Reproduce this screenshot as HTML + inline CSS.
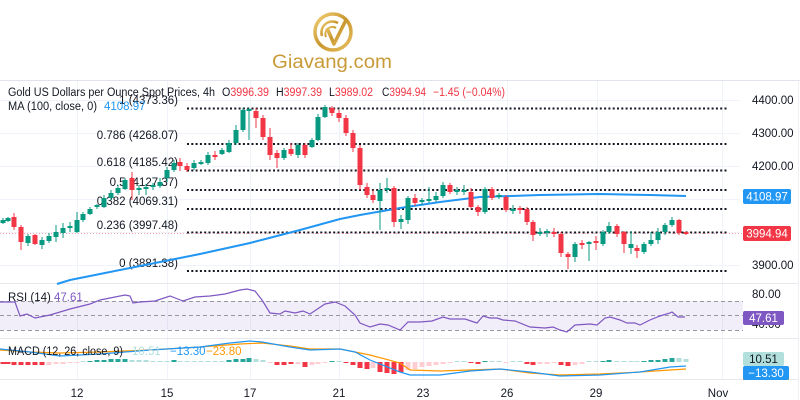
<!DOCTYPE html>
<html><head><meta charset="utf-8"><style>
html,body{margin:0;padding:0;background:#fff;}
svg{display:block;}
text{font-family:"Liberation Sans",Arial,sans-serif;}
</style></head><body>
<svg width="800" height="400" viewBox="0 0 800 400" xmlns="http://www.w3.org/2000/svg">
<defs>
<linearGradient id="gold" x1="0" y1="0" x2="1" y2="1">
<stop offset="0" stop-color="#f3d27a"/><stop offset="0.5" stop-color="#c9962e"/><stop offset="1" stop-color="#e8c060"/>
</linearGradient>
</defs>
<rect width="800" height="400" fill="#fff"/>
<!-- logo -->
<circle cx="333" cy="32" r="18" fill="none" stroke="url(#gold)" stroke-width="3.5"/>
<path d="M322 36 a11 11 0 0 1 16 -13" fill="none" stroke="url(#gold)" stroke-width="2.5"/>
<path d="M326 37 a7 7 0 0 1 10 -9" fill="none" stroke="url(#gold)" stroke-width="2"/>
<path d="M327 28 L334 44 L346 20" fill="none" stroke="url(#gold)" stroke-width="3.5" stroke-linejoin="round"/>
<text x="272" y="68" font-size="19" fill="#c99a38" textLength="120" lengthAdjust="spacingAndGlyphs">Giavang.com</text>

<!-- frame -->
<line x1="0" y1="80.5" x2="800" y2="80.5" stroke="#e0e3eb"/>
<line x1="798.5" y1="80" x2="798.5" y2="400" stroke="#eef0f4"/>
<!-- grid -->
<g stroke="#f0f3fa" stroke-width="1">
<path d="M77.5 81V379M167.5 81V379M250.5 81V379M339.5 81V379M423.5 81V379M507.5 81V379M597.5 81V379M722.5 81V379"/>
<path d="M0 100.5H740M0 133.5H740M0 166.5H740M0 199.5H740M0 232.5H740M0 265.5H740"/>
</g>
<!-- pane separators -->
<line x1="0" y1="283.5" x2="798" y2="283.5" stroke="#e6e8ee"/>
<line x1="0" y1="338.5" x2="798" y2="338.5" stroke="#e6e8ee"/>
<line x1="0" y1="379.5" x2="798" y2="379.5" stroke="#e6e8ee"/>

<!-- fib dotted lines -->
<g stroke="#131722" stroke-width="2" stroke-dasharray="2 2.3">
<path d="M187 108.5H728M187 144H728M187 170.5H728M187 190H728M187 209H728M187 232.5H728M187 271H728"/>
</g>
<!-- current price dotted -->
<line x1="0" y1="233.5" x2="742" y2="233.5" stroke="#f7a6ad" stroke-width="1" stroke-dasharray="1 2"/>

<!-- fib labels -->
<g font-size="11.5" fill="#131722" text-anchor="end">
<text x="178" y="104">1 (4373.36)</text>
<text x="178" y="139">0.786 (4268.07)</text>
<text x="178" y="166">0.618 (4185.42)</text>
<text x="178" y="186">0.5 (4127.37)</text>
<text x="178" y="205">0.382 (4069.31)</text>
<text x="178" y="229">0.236 (3997.48)</text>
<text x="178" y="267">0 (3881.38)</text>
</g>

<!-- MA line -->
<polyline fill="none" stroke="#2196f3" stroke-width="2" points="57,284 70,280 100,274 130,268 160,262 200,254 250,243 300,230 340,219 360,215 400,208 440,202 480,197 540,195 600,194 650,195 686,196"/>

<!-- candles green -->
<path fill="#089981" d="M0.5 220h5v3h-5zM5.5 218h5v3h-5zM25.5 236h5v7h-5zM39.5 240h5v5h-5zM46.5 236h5v5h-5zM53.5 232h5v5h-5zM60.5 228h5v5h-5zM67.5 226h5v2h-5zM74.5 220h5v12h-5zM80.5 214h5v6h-5zM87.5 209h5v5h-5zM94.5 205h5v2h-5zM101.5 198h5v9h-5zM108.5 193h5v5h-5zM115.5 188h5v5h-5zM122.5 180h5v9h-5zM136.5 188h5v2h-5zM143.5 187h5v2h-5zM150.5 185h5v2h-5zM157.5 182h5v4h-5zM164.5 170h5v8h-5zM171.5 163h5v7h-5zM191.5 163h5v5h-5zM198.5 162h5v2h-5zM205.5 155h5v8h-5zM219.5 150h5v4h-5zM226.5 143h5v9h-5zM233.5 130h5v13h-5zM240.5 110h5v20h-5zM246.5 109h5v2h-5zM281.5 150h5v8h-5zM295.5 145h5v10h-5zM309.5 140h5v7h-5zM315.5 117h5v23h-5zM322.5 107h5v10h-5zM377.5 190h5v11h-5zM384.5 188h5v2h-5zM398.5 219h5v3h-5zM405.5 198h5v22h-5zM419.5 200h5v2h-5zM426.5 199h5v2h-5zM433.5 196h5v4h-5zM440.5 185h5v11h-5zM454.5 190h5v2h-5zM461.5 190h5v2h-5zM482.5 189h5v23h-5zM496.5 195h5v2h-5zM510.5 209h5v2h-5zM537.5 232h5v2h-5zM544.5 231h5v2h-5zM572.5 244h5v13h-5zM586.5 242h5v2h-5zM600.5 232h5v12h-5zM606.5 226h5v6h-5zM628.5 244h5v4h-5zM641.5 244h5v8h-5zM648.5 240h5v4h-5zM655.5 232h5v8h-5zM662.5 225h5v7h-5zM669.5 220h5v5h-5z"/>
<path fill="none" stroke="#089981" stroke-width="1" d="M3 218V224M8 217V222M28 234V246M42 237V249M49 233V243M56 225V242M63 223V238M70 222V232M77 212V233M83 212V222M90 207V215M97 204V209M104 195V208M111 190V200M118 185V195M125 178V190M139 185V195M146 184V195M153 183V190M160 178V188M167 167V182M174 160V172M194 160V170M201 160V165M208 152V165M222 148V155M229 140V153M236 125V145M243 108V132M249 108V140M284 148V160M298 143V158M312 138V148M318 114V141M325 105V118M380 183V230M387 178V193M401 215V229M408 196V224M422 198V205M429 187V203M436 192V202M443 182V198M457 187V195M464 185V195M485 187V214M499 193V199M513 205V214M540 228V236M547 229V237M575 242V262M589 241V261M603 230V246M609 222V234M631 231V254M644 242V254M651 232V246M658 228V244M665 223V235M672 217V227"/>
<!-- candles red -->
<path fill="#f23645" d="M11.5 217h5v10h-5zM18.5 227h5v15h-5zM32.5 235h5v9h-5zM129.5 178h5v12h-5zM177.5 162h5v4h-5zM184.5 166h5v4h-5zM212.5 155h5v2h-5zM253.5 111h5v7h-5zM260.5 118h5v19h-5zM267.5 137h5v18h-5zM274.5 153h5v5h-5zM288.5 149h5v5h-5zM302.5 145h5v10h-5zM329.5 108h5v5h-5zM336.5 113h5v5h-5zM343.5 118h5v15h-5zM350.5 133h5v15h-5zM357.5 148h5v37h-5zM364.5 187h5v8h-5zM370.5 195h5v5h-5zM391.5 188h5v34h-5zM412.5 198h5v5h-5zM447.5 185h5v7h-5zM468.5 192h5v15h-5zM475.5 207h5v5h-5zM489.5 189h5v9h-5zM503.5 197h5v13h-5zM517.5 208h5v2h-5zM524.5 209h5v13h-5zM530.5 222h5v13h-5zM551.5 232h5v2h-5zM558.5 234h5v19h-5zM565.5 254h5v3h-5zM579.5 243h5v2h-5zM593.5 241h5v2h-5zM614.5 226h5v8h-5zM621.5 232h5v12h-5zM634.5 248h5v3h-5zM676.5 220h5v13h-5zM683.5 232h5v2h-5z"/>
<path fill="none" stroke="#f23645" stroke-width="1" d="M14 213V230M21 225V250M35 234V245M132 172V200M180 158V171M187 163V172M215 151V160M256 108V128M263 115V140M270 128V160M277 150V168M291 143V156M305 143V158M332 106V116M339 110V122M346 115V136M353 130V152M360 145V190M367 183V198M373 190V203M394 186V227M415 194V206M450 183V194M471 188V209M478 205V216M492 187V200M506 195V212M520 206V214M527 207V225M533 220V241M554 228V237M561 232V257M568 252V269M582 240V249M596 236V250M617 224V237M624 231V253M637 245V258M679 219V235M686 231V235"/>

<!-- header text -->
<g font-size="11.5">
<text x="8" y="96" fill="#131722" textLength="207" lengthAdjust="spacingAndGlyphs">Gold US Dollars per Ounce Spot Prices, 4h</text>
<text x="222" y="96" fill="#131722" textLength="47" lengthAdjust="spacingAndGlyphs">O<tspan fill="#f23645">3996.39</tspan></text>
<text x="276" y="96" fill="#131722" textLength="46" lengthAdjust="spacingAndGlyphs">H<tspan fill="#f23645">3997.39</tspan></text>
<text x="329" y="96" fill="#131722" textLength="44" lengthAdjust="spacingAndGlyphs">L<tspan fill="#f23645">3989.02</tspan></text>
<text x="382" y="96" fill="#131722" textLength="44" lengthAdjust="spacingAndGlyphs">C<tspan fill="#f23645">3994.94</tspan></text>
<text x="433" y="96" fill="#f23645" textLength="72" lengthAdjust="spacingAndGlyphs">−1.45 (−0.04%)</text>
<text x="8" y="110" fill="#131722" textLength="89" lengthAdjust="spacingAndGlyphs">MA (100, close, 0)</text>
<text x="104" y="110" fill="#2196f3">4108.97</text>
</g>

<!-- price scale -->
<g font-size="11.5" fill="#131722">
<text x="752" y="104">4400.00</text>
<text x="752" y="137">4300.00</text>
<text x="752" y="170">4200.00</text>
<text x="752" y="269">3900.00</text>
</g>
<rect x="743" y="189" width="48" height="15" rx="2" fill="#2196f3"/>
<text x="767" y="200.5" font-size="11.5" fill="#fff" text-anchor="middle">4108.97</text>
<rect x="743" y="226" width="48" height="15" rx="2" fill="#f23645"/>
<text x="767" y="237.5" font-size="11.5" fill="#fff" text-anchor="middle">3994.94</text>

<!-- RSI pane -->
<rect x="0" y="301" width="743" height="29" fill="#7e57c2" fill-opacity="0.1"/>
<g stroke="#9598a1" stroke-width="1" stroke-dasharray="4 3">
<path d="M0 301.5H743M0 315.5H743M0 330.5H743"/>
</g>
<polyline fill="none" stroke="#7e57c2" stroke-width="1.2" points="0,302 15,302 20,316 27,314 35,318 50,315 70,309 90,304 100,300 110,298 125,295 130,296 133,303 140,302 155,301 170,296 183,301 195,297 210,296 225,294 240,290 247,289 255,291 262,300 270,313 280,314 285,311 295,313 303,311 310,314 325,304 335,302 345,306 355,315 360,323 370,327 380,324 388,325 400,330 408,322 420,322 432,321 443,317 450,319 465,319 477,323 483,316 490,318 497,318 503,320 515,321 530,327 545,328 553,327 560,330 567,332 575,325 590,324 597,325 605,318 610,317 620,320 627,323 635,323 640,325 650,320 660,316 670,313 672,312 678,317 685,317"/>
<g font-size="11.5">
<text x="8" y="301" fill="#131722">RSI (14)</text>
<text x="54" y="301" fill="#7e57c2">47.61</text>
<text x="752" y="298" fill="#131722">80.00</text>
<text x="752" y="328" fill="#131722">40.00</text>
</g>
<rect x="743" y="311" width="41" height="14" rx="2" fill="#7e57c2"/>
<text x="763.5" y="322" font-size="11.5" fill="#fff" text-anchor="middle">47.61</text>

<!-- MACD pane -->
<path fill="#f23645" d="M0.5 362h5v2h-5zM5.5 362h5v2h-5zM11.5 362h5v3h-5zM18.5 362h5v3h-5zM25.5 362h5v3h-5zM32.5 362h5v3h-5zM39.5 362h5v3h-5zM274.5 362h5v3h-5zM281.5 362h5v3h-5zM288.5 362h5v2h-5zM302.5 362h5v5h-5zM343.5 362h5v1h-5zM350.5 362h5v3h-5zM357.5 362h5v6h-5zM364.5 362h5v7h-5zM377.5 362h5v10h-5zM384.5 362h5v11h-5zM391.5 362h5v12h-5zM398.5 362h5v10h-5zM468.5 362h5v1h-5zM475.5 362h5v2h-5zM524.5 362h5v2h-5zM530.5 362h5v3h-5zM558.5 362h5v3h-5zM565.5 362h5v4h-5z"/>
<path fill="#ffcdd2" d="M46.5 362h5v3h-5zM53.5 362h5v2h-5zM60.5 362h5v2h-5zM67.5 362h5v1h-5zM74.5 362h5v1h-5zM267.5 362h5v1h-5zM295.5 362h5v2h-5zM309.5 362h5v3h-5zM315.5 362h5v2h-5zM322.5 362h5v1h-5zM370.5 362h5v6h-5zM405.5 362h5v8h-5zM412.5 362h5v7h-5zM419.5 362h5v5h-5zM426.5 362h5v4h-5zM433.5 362h5v3h-5zM440.5 362h5v2h-5zM447.5 362h5v1h-5zM503.5 362h5v1h-5zM537.5 362h5v2h-5zM544.5 362h5v2h-5zM551.5 362h5v1h-5zM572.5 362h5v3h-5zM579.5 362h5v2h-5z"/>
<path fill="#26a69a" d="M87.5 361h5v1h-5zM94.5 360h5v2h-5zM101.5 360h5v2h-5zM108.5 359h5v3h-5zM115.5 359h5v3h-5zM122.5 359h5v3h-5zM171.5 360h5v2h-5zM226.5 360h5v2h-5zM233.5 359h5v3h-5zM240.5 359h5v3h-5zM246.5 358h5v4h-5zM329.5 361h5v1h-5zM482.5 361h5v1h-5zM600.5 361h5v1h-5zM606.5 360h5v2h-5zM641.5 361h5v1h-5zM648.5 360h5v2h-5zM655.5 360h5v2h-5zM662.5 359h5v3h-5zM669.5 358h5v4h-5z"/>
<path fill="#b2dfdb" d="M80.5 361h5v1h-5zM129.5 360h5v2h-5zM136.5 360h5v2h-5zM143.5 360h5v2h-5zM150.5 361h5v1h-5zM157.5 361h5v1h-5zM164.5 361h5v1h-5zM177.5 361h5v1h-5zM184.5 361h5v1h-5zM191.5 361h5v1h-5zM198.5 361h5v1h-5zM205.5 361h5v1h-5zM212.5 361h5v1h-5zM219.5 361h5v1h-5zM253.5 359h5v3h-5zM260.5 360h5v2h-5zM336.5 361h5v1h-5zM454.5 361h5v1h-5zM461.5 361h5v1h-5zM489.5 361h5v1h-5zM496.5 361h5v1h-5zM510.5 361h5v1h-5zM517.5 361h5v1h-5zM586.5 361h5v1h-5zM593.5 361h5v1h-5zM614.5 361h5v1h-5zM621.5 361h5v1h-5zM628.5 361h5v1h-5zM634.5 361h5v1h-5zM676.5 358h5v4h-5zM683.5 359h5v3h-5z"/>
<polyline fill="none" stroke="#ff9800" stroke-width="1.2" points="0,350 30,352 60,353 100,352 150,350 200,347 240,344 262,343 290,346 310,349 340,349 370,355 400,363 410,370 440,371 470,370 500,369 530,373 560,375 600,374 640,372 670,370 686,369"/>
<polyline fill="none" stroke="#2196f3" stroke-width="1.2" points="0,349 30,352 60,356 100,354 150,350 200,347 230,343 250,341 262,342 290,347 310,350 340,349 355,352 370,360 400,372 410,375 440,375 470,371 500,369 530,372 560,376 600,375 640,372 670,367 686,366"/>
<g font-size="11.5">
<text x="8" y="355" fill="#131722" textLength="115" lengthAdjust="spacingAndGlyphs">MACD (12, 26, close, 9)</text>
<text x="132" y="355" fill="#b2dfdb">10.51</text>
<text x="170" y="355" fill="#2196f3">−13.30</text>
<text x="206" y="355" fill="#ff9800">−23.80</text>
</g>
<rect x="743" y="352" width="41" height="14" rx="2" fill="#b2dfdb"/>
<text x="763.5" y="363" font-size="11.5" fill="#131722" text-anchor="middle">10.51</text>
<rect x="743" y="378" width="46" height="2" fill="#ff9800"/>
<rect x="743" y="366" width="46" height="14" rx="2" fill="#2196f3"/>
<text x="766" y="377" font-size="11.5" fill="#fff" text-anchor="middle">−13.30</text>

<!-- time axis -->
<g font-size="11.5" fill="#131722" text-anchor="middle">
<text x="77" y="397">12</text>
<text x="167" y="397">15</text>
<text x="250" y="397">17</text>
<text x="339" y="397">21</text>
<text x="423" y="397">23</text>
<text x="507" y="397">26</text>
<text x="596" y="397">29</text>
<text x="718" y="397">Nov</text>
</g>
</svg>
</body></html>
